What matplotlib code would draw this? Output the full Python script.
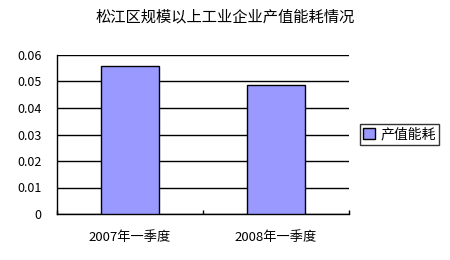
import matplotlib
matplotlib.use("Agg")
import matplotlib.pyplot as plt
import numpy as np

plt.rcParams['font.family'] = ['Noto Sans CJK SC', 'DejaVu Sans']

title = "松江区规模以上工业企业产值能耗情况"
categories = ["2007年一季度", "2008年一季度"]
values = [0.0557, 0.0487]
series_name = "产值能耗"
yticks = [0, 0.01, 0.02, 0.03, 0.04, 0.05, 0.06]
ytick_labels = ["0", "0.01", "0.02", "0.03", "0.04", "0.05", "0.06"]

fig = plt.figure(figsize=(4.5, 2.6), dpi=100)
ax = fig.add_axes([57 / 450, 46 / 260, 292 / 450, 159 / 260])

x = np.arange(len(categories))
ax.bar(x, values, width=0.4, color="#9999ff", edgecolor="black", linewidth=1,
       label=series_name, zorder=3)

ax.set_xlim(-0.5, len(categories) - 0.5)
ax.set_ylim(0, 0.06)
ax.set_yticks(yticks)
ax.set_yticklabels(ytick_labels, fontsize=9)
ax.tick_params(axis="y", length=0, pad=11)

# category labels, ticks at category boundaries pointing inward
ax.set_xticks(x)
ax.set_xticklabels(categories, fontsize=9.5)
ax.tick_params(axis="x", which="major", length=0, pad=12)
ax.set_xticks(np.arange(len(categories) + 1) - 0.5, minor=True)
ax.tick_params(axis="x", which="minor", direction="in", length=3, width=1, color="black")

ax.grid(axis="y", color="black", linewidth=1, zorder=0)
for side in ["top", "right"]:
    ax.spines[side].set_visible(False)
for side in ["left", "bottom"]:
    ax.spines[side].set_linewidth(1)
    ax.spines[side].set_color("black")

leg = fig.legend(loc="center left", bbox_to_anchor=(360 / 450, 1 - 134.5 / 260),
                 fontsize=10, frameon=True, fancybox=False, edgecolor="black",
                 handlelength=0.8, handleheight=0.8, handletextpad=0.4,
                 borderpad=0.25, borderaxespad=0)
leg.get_frame().set_linewidth(1)

fig.text(225 / 450, 1 - 17 / 260, title, ha="center", va="center", fontsize=11)

fig.savefig("out.png", dpi=100)
